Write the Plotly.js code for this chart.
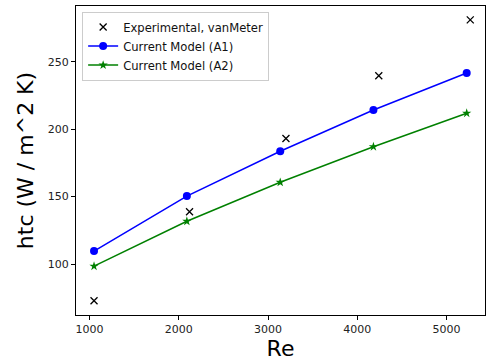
<!DOCTYPE html>
<html>
<head>
<meta charset="utf-8">
<script src="https://cdn.plot.ly/plotly-3.0.1.min.js"></script>
<style>html,body{margin:0;padding:0;background:#fff}#chart{width:486px;height:362px}</style>
</head>
<body>
<div id="chart"></div>
<script>
var expRe = [1050, 2120, 3200, 4240, 5265];
var expHtc = [72.8, 138.8, 193.0, 239.6, 281.0];
var modelRe = [1050, 2090, 3136, 4180, 5225];
var a1Htc = [109.6, 150.4, 183.6, 214.2, 241.6];
var a2Htc = [98.4, 131.7, 160.6, 187.0, 211.8];
var xTicks = [1000, 2000, 3000, 4000, 5000];
var yTicks = [100, 150, 200, 250];

var traces = [
  {x: expRe, y: expHtc, name: 'Experimental, vanMeter', mode: 'markers', type: 'scatter',
   marker: {symbol: 'x-thin', size: 7, color: 'black', line: {color: 'black', width: 1.3}}},
  {x: modelRe, y: a1Htc, name: 'Current Model (A1)', mode: 'lines+markers', type: 'scatter',
   line: {color: '#0000ff', width: 1.5}, marker: {symbol: 'circle', size: 8, color: '#0000ff'}},
  {x: modelRe, y: a2Htc, name: 'Current Model (A2)', mode: 'lines+markers', type: 'scatter',
   line: {color: '#008000', width: 1.5}, marker: {symbol: 'star', size: 7, color: '#008000'}}
];

var axisCommon = {showline: true, mirror: true, linecolor: '#000', linewidth: 1,
  ticks: 'outside', ticklen: 4, tickwidth: 1, tickcolor: '#000', showgrid: false, zeroline: false,
  tickfont: {family: 'DejaVu Sans', size: 11, color: '#222'}};

var layout = {
  width: 486, height: 362,
  margin: {l: 76, r: 1, t: 6, b: 47},
  paper_bgcolor: '#fff', plot_bgcolor: '#fff',
  showlegend: true,
  legend: {x: 0.015, y: 0.982, xanchor: 'left', yanchor: 'top', bgcolor: 'rgba(255,255,255,0.8)',
    bordercolor: '#cccccc', borderwidth: 1, font: {family: 'DejaVu Sans', size: 11.6, color: '#111'},
    tracegroupgap: 0, itemwidth: 30},
  xaxis: Object.assign({}, axisCommon, {range: [848, 5430], tickvals: xTicks, ticktext: xTicks.map(String),
    title: {text: 'Re', font: {family: 'DejaVu Sans', size: 22, color: '#000'}, standoff: 3}}),
  yaxis: Object.assign({}, axisCommon, {range: [62.2, 291.3], tickvals: yTicks, ticktext: yTicks.map(String),
    title: {text: 'htc (W / m^2 K)', font: {family: 'DejaVu Sans', size: 22, color: '#000'}, standoff: 8}})
};

Plotly.newPlot('chart', traces, layout, {displayModeBar: false, staticPlot: true});
</script>
</body>
</html>
